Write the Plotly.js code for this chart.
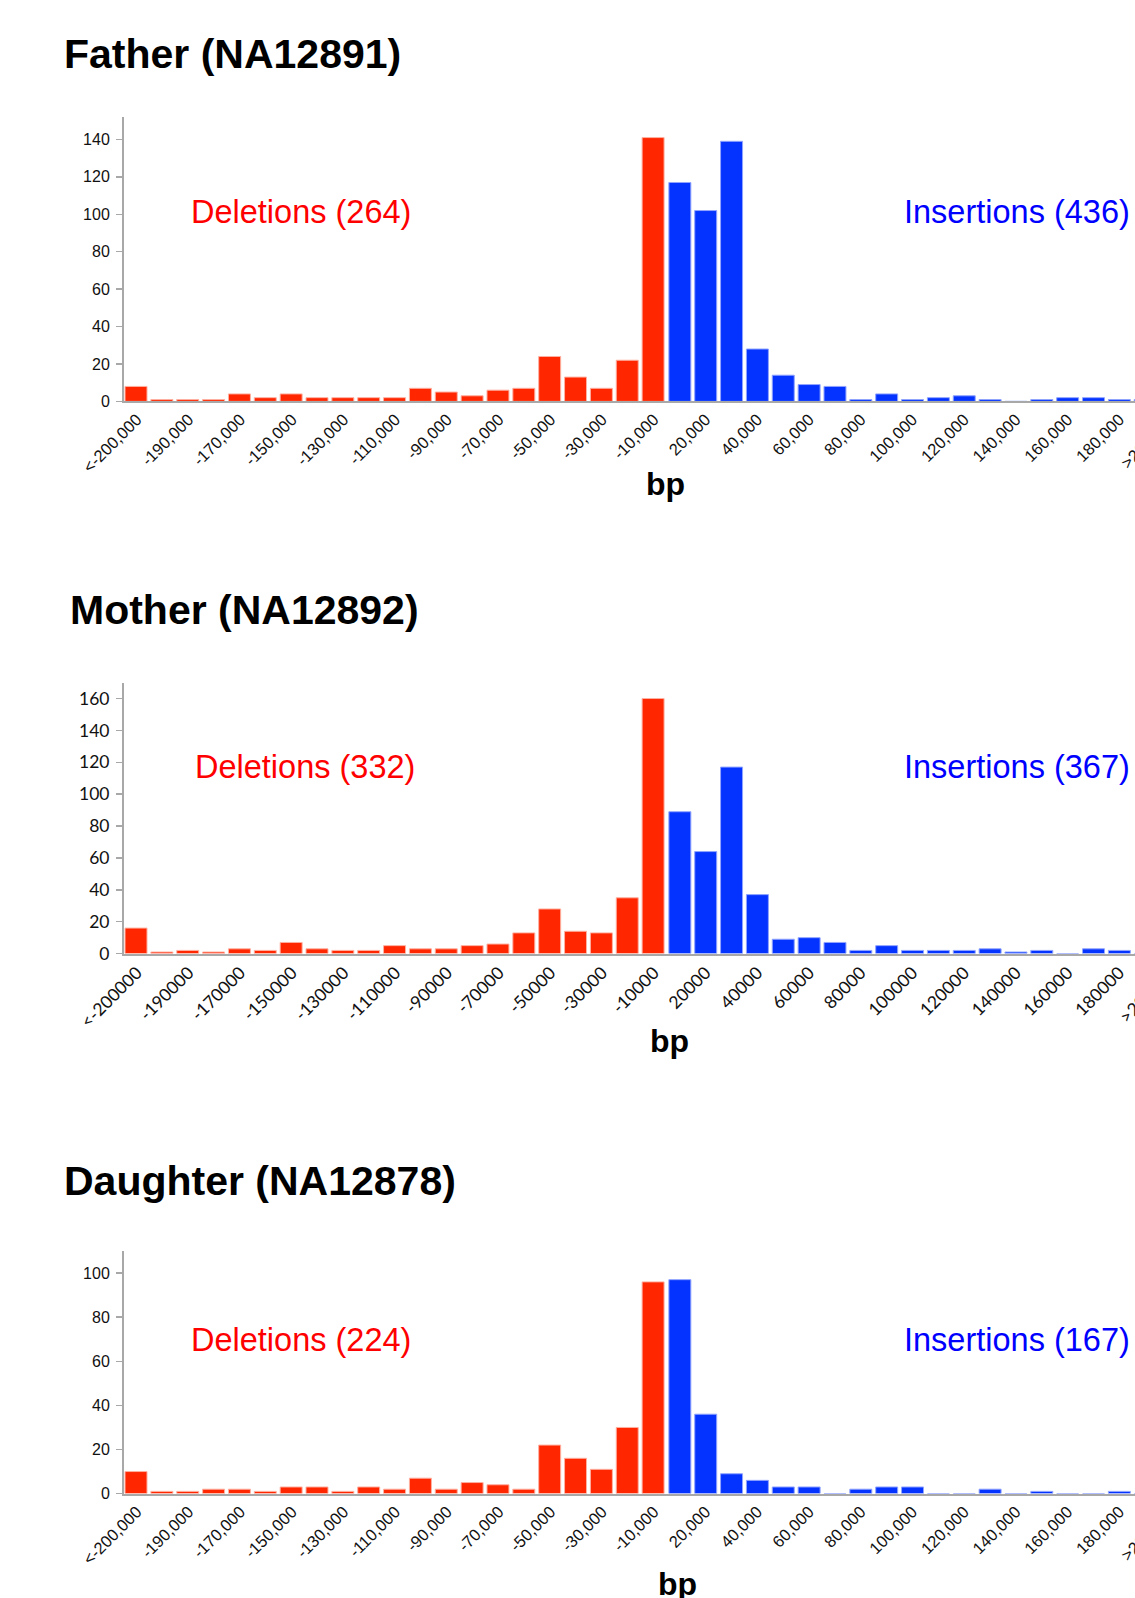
<!DOCTYPE html>
<html>
<head>
<meta charset="utf-8">
<script src="https://cdn.plot.ly/plotly-3.0.1.min.js"></script>
<style>
  html, body { margin: 0; padding: 0; background: #fff; overflow: hidden; width: 1135px; height: 1598px; }
  #chart { width: 1260px; height: 1598px; }
</style>
</head>
<body>
<div id="chart"></div>
<script>
// ---------- DATA ----------
const bins = ["<-200000","-200000","-190000","-180000","-170000","-160000","-150000","-140000","-130000","-120000",
  "-110000","-100000","-90000","-80000","-70000","-60000","-50000","-40000","-30000","-20000","-10000",
  "10000","20000","30000","40000","50000","60000","70000","80000","90000","100000",
  "110000","120000","130000","140000","150000","160000","170000","180000","190000",">200000"];
const delBins = bins.slice(0, 21);
const insBins = bins.slice(21);

const tickTextComma = ["<-200,000","-190,000","-170,000","-150,000","-130,000","-110,000","-90,000","-70,000","-50,000","-30,000",
  "-10,000","20,000","40,000","60,000","80,000","100,000","120,000","140,000","160,000","180,000",">200,000"];
const tickTextPlain = ["<-200000","-190000","-170000","-150000","-130000","-110000","-90000","-70000","-50000","-30000",
  "-10000","20000","40000","60000","80000","100000","120000","140000","160000","180000",">200000"];

const titles = ["Father (NA12891)", "Mother (NA12892)", "Daughter (NA12878)"];
const delLabels = ["Deletions (264)", "Deletions (332)", "Deletions (224)"];
const insLabels = ["Insertions (436)", "Insertions (367)", "Insertions (167)"];
const axisLabel = "bp";

const fatherDel = [8,1,1,1,4,2,4,2,2,2,2,7,5,3,6,7,24,13,7,22,141];
const fatherIns = [117,102,139,28,14,9,8,1,4,1,2,3,1,0,1,2,2,1,1,0];
const motherDel = [16,1,2,1,3,2,7,3,2,2,5,3,3,5,6,13,28,14,13,35,160];
const motherIns = [89,64,117,37,9,10,7,2,5,2,2,2,3,1,2,0,3,2,0,0];
const daughterDel = [10,1,1,2,2,1,3,3,1,3,2,7,2,5,4,2,22,16,11,30,96];
const daughterIns = [97,36,9,6,3,3,0,2,3,3,0,0,2,0,1,0,0,1,0,0];

// ---------- LAYOUT HELPERS ----------
const W = 1260, H = 1598, ML = 124, MR = 76;
const PW = W - ML - MR;
const px = x => (x - ML) / PW;
const py = y => 1 - y / H;

const RED = '#ff2600', BLUE = '#0433ff';
const tickVals = bins.filter((b, i) => i % 2 === 0);

const panels = [
  {del: fatherDel, ins: fatherIns, top: 117, bottom: 401.4, ymax: 152, ticks: tickTextComma,
   font: 'Liberation Sans, Arial, sans-serif', tfs: 16.5, yfs: 16,
   titleX: 62, titleY: 54, delX: 189, insX: 902, labY: 212, bpX: 665, bpY: 484},
  {del: motherDel, ins: motherIns, top: 682.6, bottom: 953.6, ymax: 170, ticks: tickTextPlain,
   font: 'Lato, sans-serif', tfs: 17.5, yfs: 17.5,
   titleX: 68, titleY: 610, delX: 193, insX: 902, labY: 767, bpX: 669, bpY: 1041},
  {del: daughterDel, ins: daughterIns, top: 1251, bottom: 1493.6, ymax: 110, ticks: tickTextComma,
   font: 'Liberation Sans, Arial, sans-serif', tfs: 16.5, yfs: 16,
   titleX: 62, titleY: 1181, delX: 189, insX: 902, labY: 1340, bpX: 677, bpY: 1584}
];

const data = [];
const layout = {
  width: W, height: H,
  margin: {l: ML, r: MR, t: 0, b: 0},
  paper_bgcolor: '#fff', plot_bgcolor: '#fff',
  showlegend: false, barmode: 'overlay', bargap: 0.15,
  annotations: []
};

panels.forEach((p, i) => {
  const n = i === 0 ? '' : String(i + 1);
  const xa = 'x' + n, ya = 'y' + n;
  data.push({type: 'bar', x: delBins, y: p.del, xaxis: xa, yaxis: ya, offset: -0.46, width: 0.85,
    marker: {color: RED, line: {color: '#ffb0a0', width: 1}}, hoverinfo: 'x+y'});
  data.push({type: 'bar', x: insBins, y: p.ins, xaxis: xa, yaxis: ya,
    marker: {color: BLUE, line: {color: '#90a4ff', width: 1}}, hoverinfo: 'x+y'});

  layout['xaxis' + n] = {
    type: 'category', categoryorder: 'array', categoryarray: bins,
    range: [-0.5, 40.5], domain: [0, 1], anchor: ya,
    showline: true, linecolor: '#a8a8a8', linewidth: 2,
    showgrid: false, zeroline: false, ticks: '',
    tickvals: tickVals, ticktext: p.ticks, tickangle: -45,
    tickfont: {family: p.font, size: p.tfs, color: '#111'}
  };
  layout['yaxis' + n] = {
    range: [0, p.ymax], domain: [py(p.bottom), py(p.top)], anchor: xa,
    showline: true, linecolor: '#a8a8a8', linewidth: 2,
    showgrid: false, zeroline: false, ticks: 'outside', ticklen: 6, tickwidth: 1.5, tickcolor: '#a8a8a8',
    ticklabelstandoff: 3,
    dtick: 20, tickfont: {family: p.font, size: p.yfs, color: '#111'}
  };

  layout.annotations.push(
    {text: titles[i], xref: 'paper', yref: 'paper', x: px(p.titleX), y: py(p.titleY),
     xanchor: 'left', yanchor: 'middle', showarrow: false,
     font: {family: 'Liberation Sans, Arial, sans-serif', size: 41, color: '#000', weight: 'bold'}},
    {text: delLabels[i], xref: 'paper', yref: 'paper', x: px(p.delX), y: py(p.labY),
     xanchor: 'left', yanchor: 'middle', showarrow: false,
     font: {family: 'Liberation Sans, Arial, sans-serif', size: 32.5, color: '#ff0000'}},
    {text: insLabels[i], xref: 'paper', yref: 'paper', x: px(p.insX), y: py(p.labY),
     xanchor: 'left', yanchor: 'middle', showarrow: false,
     font: {family: 'Liberation Sans, Arial, sans-serif', size: 32.5, color: '#0000ff'}},
    {text: axisLabel, xref: 'paper', yref: 'paper', x: px(p.bpX), y: py(p.bpY),
     xanchor: 'center', yanchor: 'middle', showarrow: false,
     font: {family: 'Liberation Sans, Arial, sans-serif', size: 32, color: '#000', weight: 'bold'}}
  );
});

Plotly.newPlot('chart', data, layout, {staticPlot: true, displayModeBar: false});
</script>
</body>
</html>
